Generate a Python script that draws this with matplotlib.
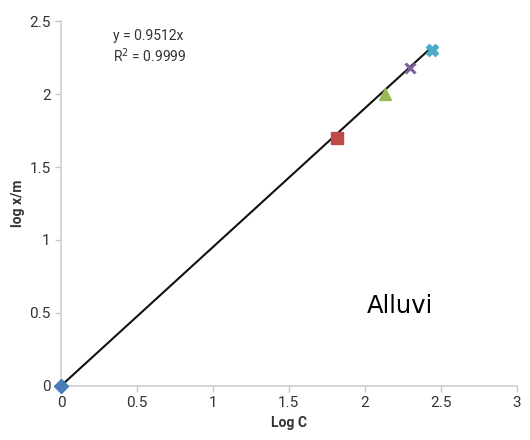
import matplotlib
matplotlib.use("Agg")
import matplotlib.pyplot as plt
import numpy as np

log_c = [0.0, 1.82, 2.13, 2.30, 2.44]
log_xm = [0.0, 1.70, 2.00, 2.18, 2.30]
markers = ["D", "s", "^", "x", "X"]
colors = ["#4a7ebb", "#be4b48", "#98b954", "#7d60a0", "#4bacc6"]
slope = 0.9512
x_ticks = [0, 0.5, 1, 1.5, 2, 2.5, 3]
y_ticks = [0, 0.5, 1, 1.5, 2, 2.5]

plt.rcParams['font.family'] = ['Roboto', 'DejaVu Sans']

fig = plt.figure(figsize=(5.3, 4.4), dpi=100)
ax = fig.add_axes([0.115, 0.123, 0.86, 0.829])

xl = np.array([0, 2.43])
ax.plot(xl, slope * xl, color="#111111", lw=1.5, zorder=2)

sizes = [7, 8, 9, 6.5, 8]
for x, y, m, c, s in zip(log_c, log_xm, markers, colors, sizes):
    if m == "x":
        ax.plot(x, y, marker=m, color=c, ms=s, mew=2.2, ls="none", zorder=3, clip_on=False)
    else:
        ax.plot(x, y, marker=m, color=c, ms=s, mec=c, ls="none", zorder=3, clip_on=False)

ax.set_xlim(0, 3)
ax.set_ylim(0, 2.5)
ax.set_xticks(x_ticks)
ax.set_xticklabels([f"{t:g}" for t in x_ticks])
ax.set_yticks(y_ticks)
ax.set_yticklabels([f"{t:g}" for t in y_ticks])

for s in ["top", "right"]:
    ax.spines[s].set_visible(False)
for s in ["left", "bottom"]:
    ax.spines[s].set_color("#d0d0d0")
    ax.spines[s].set_linewidth(1.2)
ax.tick_params(colors="#c8c8c8", labelcolor="#333333", labelsize=11, length=4, width=1)

ax.set_xlabel("Log C", fontsize=10, fontweight="bold", color="#333333", labelpad=4)
ax.set_ylabel("log x/m", fontsize=10, fontweight="bold", color="#333333", labelpad=3)

ax.text(0.34, 2.40, "y = 0.9512x", fontsize=10, color="#333333", va="center")
ax.text(0.34, 2.26, "R$^2$ = 0.9999", fontsize=10, color="#333333", va="center")

ax.text(2.01, 0.5, "Alluvi", fontsize=17.5, color="black", family="DejaVu Sans", va="baseline")

fig.savefig("out.png", dpi=100)
